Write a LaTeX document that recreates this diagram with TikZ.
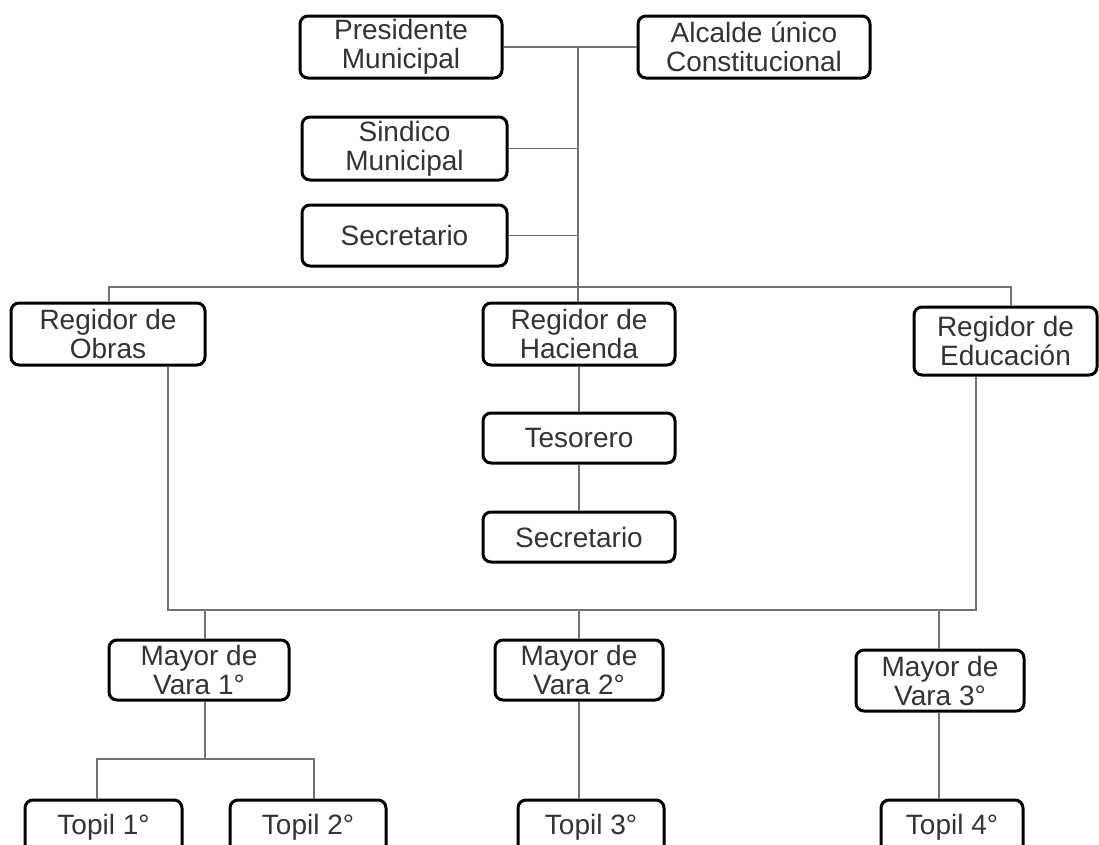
\documentclass[tikz,border=0pt]{standalone}
\usepackage{fontspec}
\setmainfont{Liberation Sans}
\begin{document}
\begin{tikzpicture}[x=1pt,y=-1pt,
  box/.style={draw=black,line width=3pt,rounded corners=8pt,fill=white,
    align=center,inner sep=0pt,text=black!80,
    font=\fontsize{28}{29}\selectfont},
  link/.style={draw=black!55,line width=1.6pt}]
\useasboundingbox (0,0) rectangle (1099,844);
\clip (0,0) rectangle (1099,844);
% nodes
\node[box,minimum width=202pt,minimum height=62pt] (pres) at (401,47) {Presidente\\Municipal};
\node[box,minimum width=232pt,minimum height=62pt] (alc) at (754,47) {Alcalde único\\Constitucional};
\node[box,minimum width=205pt,minimum height=63pt] (sind) at (404.5,148.5) {Sindico\\Municipal};
\node[box,minimum width=205pt,minimum height=61pt] (sec1) at (404.5,235.5) {Secretario};
\node[box,minimum width=194pt,minimum height=62pt] (robr) at (108,334) {Regidor de\\Obras};
\node[box,minimum width=192pt,minimum height=62pt] (rhac) at (579,334) {Regidor de\\Hacienda};
\node[box,minimum width=183pt,minimum height=68pt] (redu) at (1005.5,341) {Regidor de\\Educación};
\node[box,minimum width=192pt,minimum height=50pt] (tes) at (579,438) {Tesorero};
\node[box,minimum width=192pt,minimum height=50pt] (sec2) at (579,537) {Secretario};
\node[box,minimum width=180pt,minimum height=60pt] (may1) at (199,670) {Mayor de\\Vara 1°};
\node[box,minimum width=168pt,minimum height=60pt] (may2) at (579,670) {Mayor de\\Vara 2°};
\node[box,minimum width=168pt,minimum height=61pt] (may3) at (940,680.5) {Mayor de\\Vara 3°};
\node[box,minimum width=157pt,minimum height=54pt] (top1) at (103.5,827) {Topil 1°};
\node[box,minimum width=156pt,minimum height=54pt] (top2) at (308,827) {Topil 2°};
\node[box,minimum width=146pt,minimum height=54pt] (top3) at (591,827) {Topil 3°};
\node[box,minimum width=142pt,minimum height=54pt] (top4) at (952,827) {Topil 4°};
% junction coordinates
\coordinate (t0) at (578,47);
\coordinate (b1) at (109,287);
\coordinate (b2) at (1011,287);
\coordinate (c1) at (168,610);
\coordinate (c2) at (976,610);
\coordinate (d1) at (205,610);
\coordinate (d2) at (579,610);
\coordinate (d3) at (939,610);
\coordinate (e0) at (205,759);
\coordinate (e1) at (97,759);
\coordinate (e2) at (314,759);
% connectors
\draw[link] (pres.east) -- (alc.west);
\draw[link] (t0) -- (t0 |- rhac.north);
\draw[link] (sind.east) -- (sind.east -| t0);
\draw[link] (sec1.east) -- (sec1.east -| t0);
\draw[link] (b1 |- robr.north) -- (b1) -- (b2) -- (b2 |- redu.north);
\draw[link] (rhac.south) -- (tes.north);
\draw[link] (tes.south) -- (sec2.north);
\draw[link] (c1 |- robr.south) -- (c1) -- (c2) -- (c2 |- redu.south);
\draw[link] (d1) -- (d1 |- may1.north);
\draw[link] (d2) -- (d2 |- may2.north);
\draw[link] (d3) -- (d3 |- may3.north);
\draw[link] (e0 |- may1.south) -- (e0);
\draw[link] (e1 |- top1.north) -- (e1) -- (e2) -- (e2 |- top2.north);
\draw[link] (d2 |- may2.south) -- (d2 |- top3.north);
\draw[link] (d3 |- may3.south) -- (d3 |- top4.north);
\end{tikzpicture}
\end{document}
